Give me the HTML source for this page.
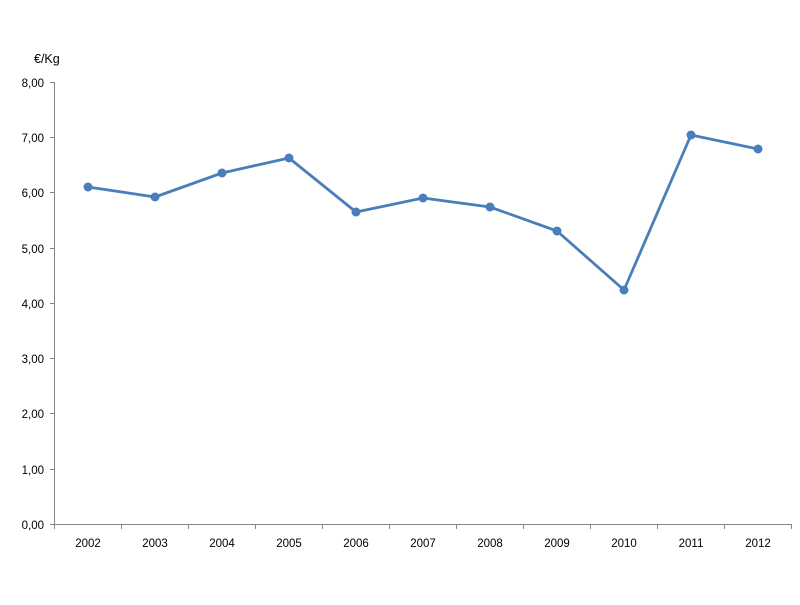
<!DOCTYPE html>
<html><head><meta charset="utf-8"><style>html,body{margin:0;padding:0;background:#fff}</style></head>
<body>
<svg width="800" height="600" xmlns="http://www.w3.org/2000/svg" font-family="Liberation Sans, sans-serif" font-size="11.5" fill="#000">
<rect width="800" height="600" fill="#fff"/>
<g stroke="#868686" stroke-width="1" fill="none">
<line x1="54.5" y1="82" x2="54.5" y2="524"/>
<line x1="54" y1="524.5" x2="792" y2="524.5"/>
<line x1="50" y1="82.5" x2="54" y2="82.5"/>
<line x1="50" y1="137.5" x2="54" y2="137.5"/>
<line x1="50" y1="192.5" x2="54" y2="192.5"/>
<line x1="50" y1="248.5" x2="54" y2="248.5"/>
<line x1="50" y1="303.5" x2="54" y2="303.5"/>
<line x1="50" y1="358.5" x2="54" y2="358.5"/>
<line x1="50" y1="413.5" x2="54" y2="413.5"/>
<line x1="50" y1="469.5" x2="54" y2="469.5"/>
<line x1="50" y1="524.5" x2="54" y2="524.5"/>
<line x1="54.5" y1="524" x2="54.5" y2="529"/>
<line x1="121.5" y1="524" x2="121.5" y2="529"/>
<line x1="188.5" y1="524" x2="188.5" y2="529"/>
<line x1="255.5" y1="524" x2="255.5" y2="529"/>
<line x1="322.5" y1="524" x2="322.5" y2="529"/>
<line x1="389.5" y1="524" x2="389.5" y2="529"/>
<line x1="456.5" y1="524" x2="456.5" y2="529"/>
<line x1="523.5" y1="524" x2="523.5" y2="529"/>
<line x1="590.5" y1="524" x2="590.5" y2="529"/>
<line x1="657.5" y1="524" x2="657.5" y2="529"/>
<line x1="724.5" y1="524" x2="724.5" y2="529"/>
<line x1="791.5" y1="524" x2="791.5" y2="529"/>
</g>
<g text-anchor="end">
<text x="44" y="87">8,00</text>
<text x="44" y="142">7,00</text>
<text x="44" y="197">6,00</text>
<text x="44" y="253">5,00</text>
<text x="44" y="308">4,00</text>
<text x="44" y="363">3,00</text>
<text x="44" y="418">2,00</text>
<text x="44" y="474">1,00</text>
<text x="44" y="529">0,00</text>
</g>
<text x="34" y="63" font-size="12.5">€/Kg</text>
<g text-anchor="middle">
<text x="88" y="547">2002</text><text x="155" y="547">2003</text><text x="222" y="547">2004</text>
<text x="289" y="547">2005</text><text x="356" y="547">2006</text><text x="423" y="547">2007</text>
<text x="490" y="547">2008</text><text x="557" y="547">2009</text><text x="624" y="547">2010</text>
<text x="691" y="547">2011</text><text x="758" y="547">2012</text>
</g>
<polyline fill="none" stroke="#4a7ebb" stroke-width="2.8" stroke-linejoin="round" points="88,187 155,197 222,173 289,158 356,212 423,198 490,207 557,231 624,290 691,135 758,149"/>
<g fill="#4a7ebb">
<circle cx="88" cy="187" r="4.5"/><circle cx="155" cy="197" r="4.5"/><circle cx="222" cy="173" r="4.5"/>
<circle cx="289" cy="158" r="4.5"/><circle cx="356" cy="212" r="4.5"/><circle cx="423" cy="198" r="4.5"/>
<circle cx="490" cy="207" r="4.5"/><circle cx="557" cy="231" r="4.5"/><circle cx="624" cy="290" r="4.5"/>
<circle cx="691" cy="135" r="4.5"/><circle cx="758" cy="149" r="4.5"/>
</g>
</svg>
</body></html>
